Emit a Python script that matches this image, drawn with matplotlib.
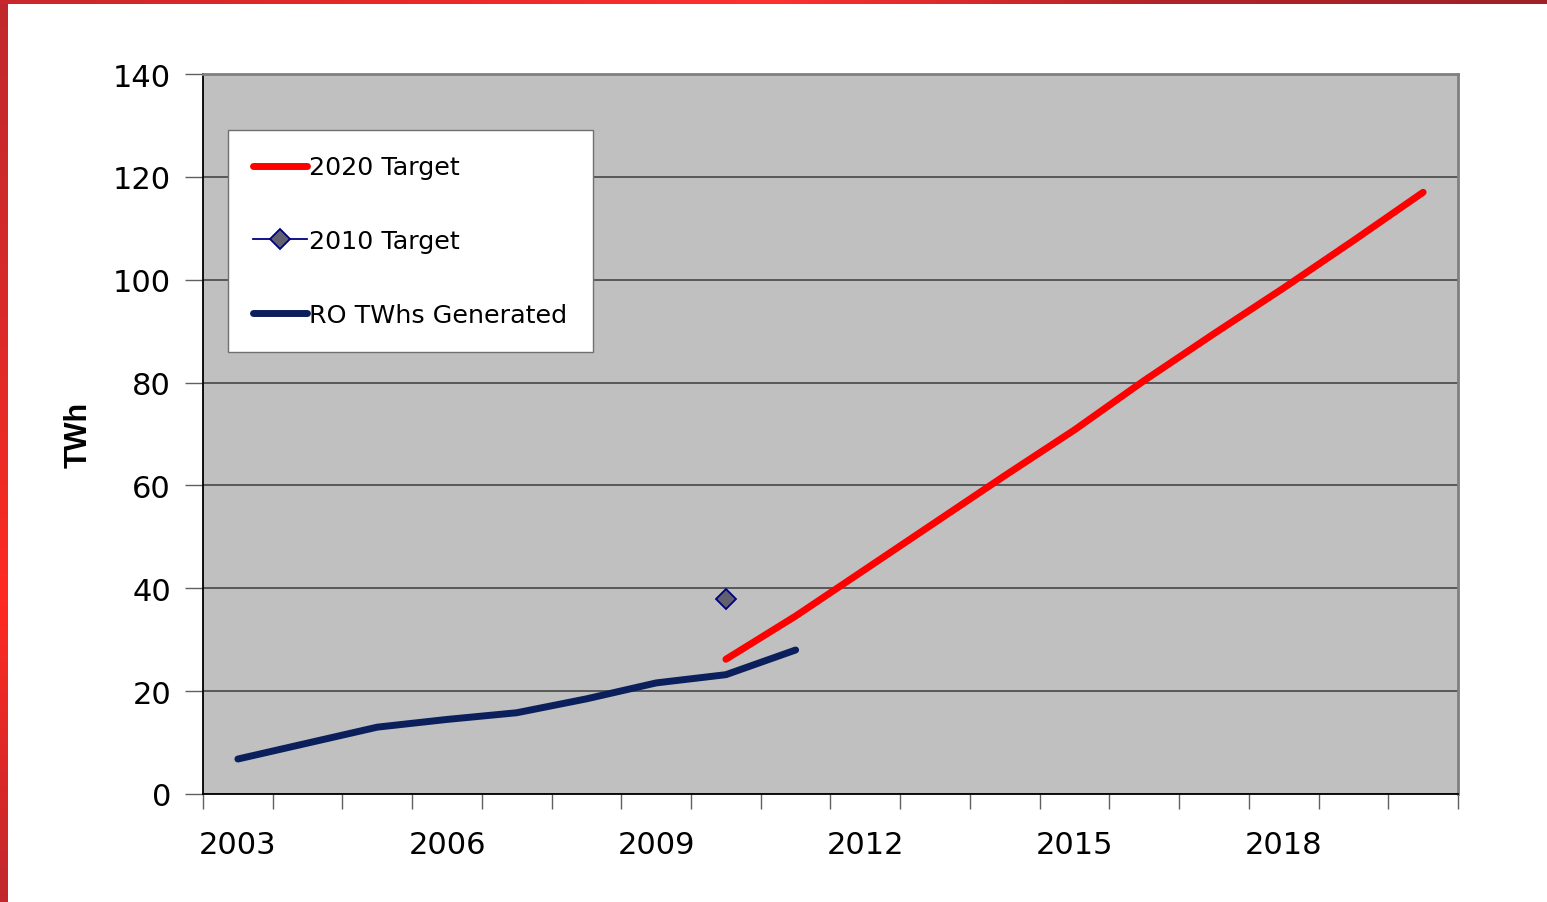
import numpy as np
import matplotlib.pyplot as plt
from matplotlib.colors import LinearSegmentedColormap

# yearly values, TWh
years = list(range(2003, 2021))
ro_years = [2003, 2004, 2005, 2006, 2007, 2008, 2009, 2010, 2011]
ro_generated = [6.8, 9.9, 13.0, 14.5, 15.8, 18.5, 21.6, 23.2, 28.0]
target_2020_years = [2010, 2011, 2012, 2013, 2014, 2015, 2016, 2017, 2018, 2019, 2020]
target_2020 = [26.2, 34.6, 43.7, 52.8, 61.9, 70.8, 80.4, 89.5, 98.4, 107.6, 117.0]
target_2010_years = [2010]
target_2010 = [38.0]
label_years = [2003, 2006, 2009, 2012, 2015, 2018]

plt.rcParams['font.family'] = ['DejaVu Sans']

fig = plt.figure(figsize=(15.47, 9.03), dpi=100)
fig.patch.set_facecolor('white')
ax = fig.add_axes([203/1547, 1-795/903, 1255/1547, 720/903])
ax.set_facecolor('#c0c0c0')

ax.plot(target_2020_years, target_2020, color='#ff0000', lw=5,
        solid_capstyle='round', label='2020 Target', zorder=3)
ax.plot(target_2010_years, target_2010, color='#000080', lw=1.3,
        marker='D', markersize=10, markerfacecolor='#606070',
        markeredgecolor='#000080', markeredgewidth=1.3,
        label='2010 Target', zorder=4)
ax.plot(ro_years, ro_generated, color='#0a1f5c', lw=5,
        solid_capstyle='round', label='RO TWhs Generated', zorder=3)

ax.set_xlim(2002.5, 2020.5)
ax.set_ylim(0, 140)
ax.set_yticks(np.arange(0, 141, 20))
ax.yaxis.grid(True, color='#505050', lw=1.3)
ax.set_axisbelow(True)
ax.set_xticks(label_years)
ax.set_xticks(np.arange(2002.5, 2021, 1), minor=True)
ax.tick_params(axis='x', which='major', length=0, pad=26, labelsize=22)
ax.tick_params(axis='x', which='minor', length=11, color='#606060', width=1)
ax.tick_params(axis='y', length=13, color='#606060', width=1, pad=10, labelsize=22)

for side in ['left', 'bottom']:
    ax.spines[side].set_color('black')
    ax.spines[side].set_linewidth(1.3)
for side in ['top', 'right']:
    ax.spines[side].set_color('#808080')
    ax.spines[side].set_linewidth(2)

ax.set_ylabel('TWh', fontsize=22, fontweight='bold', labelpad=14,
              family='Liberation Sans')

leg = ax.legend(loc='upper left', bbox_to_anchor=(25/1255, (795-131)/720),
                borderaxespad=0, fontsize=18.3, handlelength=2.1,
                handletextpad=0.1, labelspacing=1.95, borderpad=1.0,
                fancybox=False, framealpha=1, edgecolor='#707070')
leg.get_frame().set_linewidth(1)

# slide border strips
side_cmap = LinearSegmentedColormap.from_list(
    'side', ['#c0282d', '#ff2a22', '#d82a2a', '#c0282d'])
top_cmap = LinearSegmentedColormap.from_list(
    'top', ['#c8282d', '#e82828', '#ff3030', '#b02428', '#a02028'])
grad = np.linspace(0, 1, 256)
left = fig.add_axes([0, 0, 8/1547, 1])
left.imshow(grad[::-1, None], aspect='auto', cmap=side_cmap, extent=[0, 1, 0, 1])
left.axis('off')
top = fig.add_axes([0, 1-5/903, 1, 5/903])
top.imshow(grad[None, :], aspect='auto', cmap=top_cmap, extent=[0, 1, 0, 1])
top.axis('off')

fig.savefig('out.png', dpi=100)
